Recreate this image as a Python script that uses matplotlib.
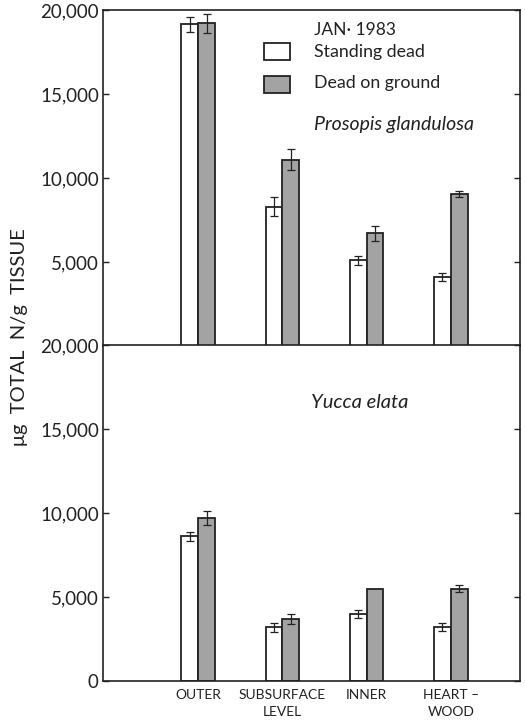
import matplotlib
matplotlib.use("Agg")
import matplotlib.pyplot as plt
from matplotlib.patches import Rectangle
from matplotlib.ticker import FuncFormatter
import numpy as np

plt.rcParams['font.family'] = ['Lato', 'DejaVu Sans']

# Tissue positions along the stem
categories = ["OUTER", "SUBSURFACE\nLEVEL", "INNER", "HEART \u2013\nWOOD"]

# Prosopis glandulosa (µg total N / g tissue)
prosopis_standing = [19150, 8300, 5100, 4100]
prosopis_standing_err = [450, 550, 270, 250]
prosopis_ground = [19200, 11100, 6700, 9050]
prosopis_ground_err = [550, 600, 430, 200]

# Yucca elata (µg total N / g tissue)
yucca_standing = [8600, 3200, 4000, 3200]
yucca_standing_err = [270, 270, 250, 250]
yucca_ground = [9700, 3700, 5500, 5500]
yucca_ground_err = [430, 300, 0, 200]

GRAY = "#a3a3a3"
INK = "#222222"

fig = plt.figure(figsize=(5.25, 7.2), dpi=100)
fig.patch.set_facecolor("white")
ax_top = fig.add_axes([0.1962, 0.5194, 0.794, 0.4667])
ax_bot = fig.add_axes([0.1962, 0.0542, 0.794, 0.4667])

x = np.arange(len(categories))
w = 0.2
fmt = FuncFormatter(lambda v, p: f"{int(v):,}")


def draw_panel(ax, standing, s_err, ground, g_err, yticks):
    ebk = dict(ecolor=INK, elinewidth=0.9, capsize=3, capthick=0.9)
    ax.bar(x - w / 2, standing, w, color="white", edgecolor=INK,
           linewidth=1.3, yerr=s_err, error_kw=ebk, zorder=2)
    g_err_plot = [e if e > 0 else np.nan for e in g_err]
    ax.bar(x + w / 2, ground, w, color=GRAY, edgecolor=INK,
           linewidth=1.3, zorder=2)
    ax.errorbar(x + w / 2, ground, yerr=g_err_plot, fmt="none", zorder=3, **ebk)
    ax.set_xlim(-1.13, 3.82)
    ax.set_ylim(0, 20000)
    ax.set_yticks(yticks)
    ax.yaxis.set_major_formatter(fmt)
    ax.tick_params(axis="y", which="both", direction="in", length=4,
                   width=1.0, colors=INK, labelsize=13.5, pad=3,
                   right=True, left=True)
    for s in ax.spines.values():
        s.set_linewidth(1.2)
        s.set_color(INK)


draw_panel(ax_top, prosopis_standing, prosopis_standing_err,
           prosopis_ground, prosopis_ground_err,
           [5000, 10000, 15000, 20000])
ax_top.set_xticks([])

draw_panel(ax_bot, yucca_standing, yucca_standing_err,
           yucca_ground, yucca_ground_err,
           [0, 5000, 10000, 15000, 20000])
ax_bot.set_xticks(x)
ax_bot.set_xticklabels(categories, fontsize=10, color=INK, linespacing=1.45)
ax_bot.tick_params(axis="x", length=0, pad=6)

# Legend and species labels
ax_top.text(0.506, 0.94, "JAN\u00b7 1983", transform=ax_top.transAxes,
            fontsize=12.5, color=INK, va="center", ha="left")
ax_top.add_patch(Rectangle((0.386, 0.852), 0.062, 0.05, transform=ax_top.transAxes,
                           facecolor="white", edgecolor=INK, linewidth=1.3))
ax_top.add_patch(Rectangle((0.386, 0.753), 0.062, 0.05, transform=ax_top.transAxes,
                           facecolor=GRAY, edgecolor=INK, linewidth=1.3))
ax_top.text(0.506, 0.875, "Standing dead", transform=ax_top.transAxes,
            fontsize=12.8, color=INK, va="center", ha="left")
ax_top.text(0.506, 0.782, "Dead on ground", transform=ax_top.transAxes,
            fontsize=12.8, color=INK, va="center", ha="left")
ax_top.text(0.506, 0.658, "Prosopis glandulosa", transform=ax_top.transAxes,
            fontsize=14, style="italic", color=INK, va="center", ha="left")
ax_bot.text(0.5, 0.83, "Yucca elata", transform=ax_bot.transAxes,
            fontsize=14.5, style="italic", color=INK, va="center", ha="left")

fig.text(0.038, 0.532, "\u03bcg  TOTAL  N/g  TISSUE", rotation=90,
         fontsize=14.5, color=INK, va="center", ha="center")

fig.savefig("out.png", dpi=100, facecolor="white")
